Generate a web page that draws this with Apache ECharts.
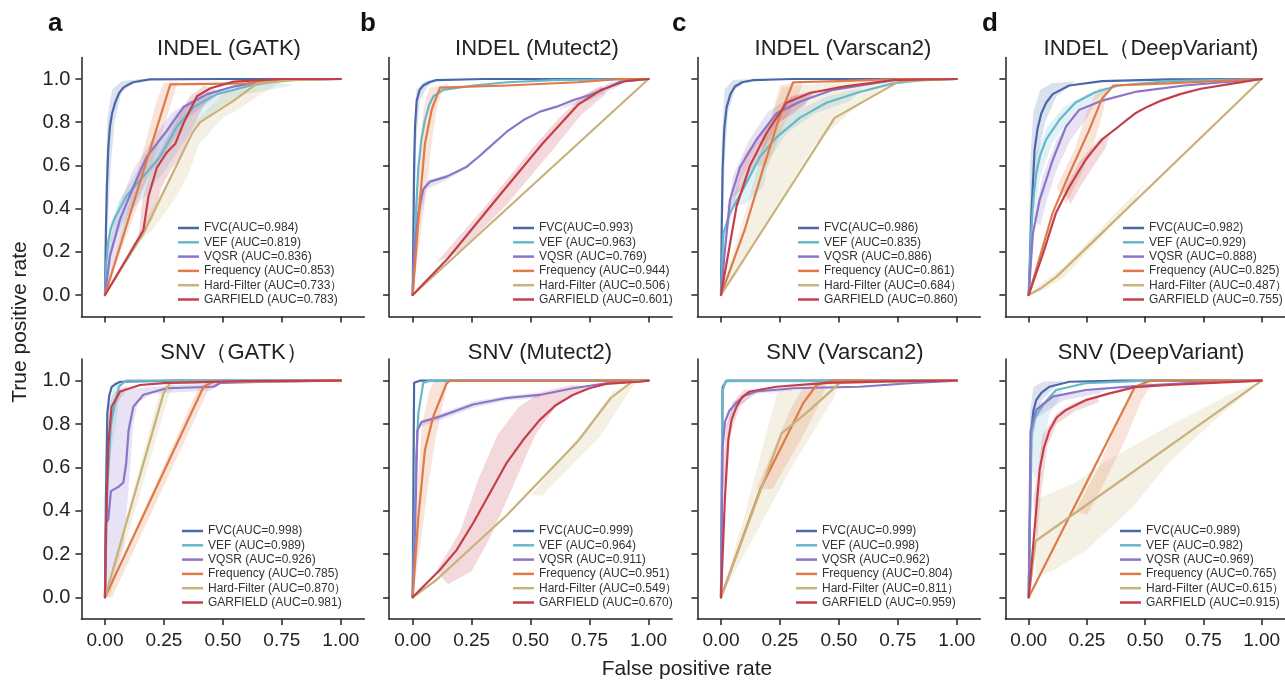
<!DOCTYPE html>
<html lang="en">
<head>
    <meta charset="UTF-8">
    <title>roc_curves</title>
    <script src="https://cdn.jsdelivr.net/npm/echarts@6/dist/echarts.min.js"></script>
    <style>
        html,body{margin:0;padding:0;background:#fff}
        #main{width:1285px;height:682px}
    </style>
</head>
<body>
    <div id="main"></div>
    <script>
        // panel titles, letters, methods
        var panelTitles = ['INDEL (GATK)', 'INDEL (Mutect2)', 'INDEL (Varscan2)', 'INDEL（DeepVariant)',
                           'SNV（GATK）', 'SNV (Mutect2)', 'SNV (Varscan2)', 'SNV (DeepVariant)'];
        var panelLetters = ['a', 'b', 'c', 'd'];
        var methodNames = ['FVC', 'VEF ', 'VQSR ', 'Frequency ', 'Hard-Filter ', 'GARFIELD '];
        var closeParen = [')', ')', ')', ')', '）', ')'];
        var methodColors = ['#4a68a8', '#68b8cb', '#8c74c8', '#e07a48', '#c9b27a', '#c3404a'];
        var xTicks = [0, 0.25, 0.5, 0.75, 1];
        var yTicks = [0, 0.2, 0.4, 0.6, 0.8, 1];

        // AUC per panel (FVC, VEF, VQSR, Frequency, Hard-Filter, GARFIELD)
        var aucIndelGatk = [0.984, 0.819, 0.836, 0.853, 0.733, 0.783];
        var aucIndelMutect2 = [0.993, 0.963, 0.769, 0.944, 0.506, 0.601];
        var aucIndelVarscan2 = [0.986, 0.835, 0.886, 0.861, 0.684, 0.860];
        var aucIndelDeepVariant = [0.982, 0.929, 0.888, 0.825, 0.487, 0.755];
        var aucSnvGatk = [0.998, 0.989, 0.926, 0.785, 0.870, 0.981];
        var aucSnvMutect2 = [0.999, 0.964, 0.911, 0.951, 0.549, 0.670];
        var aucSnvVarscan2 = [0.999, 0.998, 0.962, 0.804, 0.811, 0.959];
        var aucSnvDeepVariant = [0.989, 0.982, 0.969, 0.765, 0.615, 0.915];

        // ROC curves [fpr, tpr]
        var rocIndelGatk = [
            [[0,0],[0.004,0.3],[0.008,0.5],[0.014,0.68],[0.021,0.78],[0.03,0.84],[0.043,0.89],[0.06,0.935],[0.078,0.96],[0.1,0.975],[0.12,0.985],[0.19,0.998],[0.5,1],[1,1]],
            [[0,0],[0.006,0.15],[0.014,0.25],[0.025,0.31],[0.043,0.36],[0.092,0.46],[0.163,0.55],[0.234,0.64],[0.305,0.78],[0.376,0.87],[0.475,0.93],[0.617,0.97],[0.76,0.995],[1,1]],
            [[0,0],[0.021,0.18],[0.064,0.35],[0.12,0.5],[0.177,0.64],[0.262,0.76],[0.333,0.87],[0.433,0.93],[0.546,0.965],[0.688,0.995],[1,1]],
            [[0,0],[0.277,0.975],[0.6,0.98],[0.75,1],[1,1]],
            [[0,0],[0.163,0.285],[0.369,0.748],[0.404,0.8],[0.546,0.9],[0.645,0.98],[0.8,0.995],[1,1]],
            [[0,0],[0.163,0.3],[0.184,0.455],[0.22,0.59],[0.262,0.66],[0.298,0.7],[0.333,0.795],[0.39,0.92],[0.447,0.957],[0.546,0.988],[0.75,1],[1,1]]
        ];
        var rocIndelMutect2 = [
            [[0,0],[0.003,0.3],[0.006,0.59],[0.01,0.78],[0.017,0.9],[0.03,0.95],[0.045,0.97],[0.07,0.985],[0.1,0.995],[0.3,1],[1,1]],
            [[0,0],[0.012,0.35],[0.024,0.59],[0.037,0.72],[0.052,0.81],[0.07,0.88],[0.088,0.92],[0.13,0.95],[0.257,0.97],[0.4,0.985],[0.6,0.995],[1,1]],
            [[0,0],[0.006,0.19],[0.024,0.38],[0.045,0.49],[0.074,0.525],[0.144,0.548],[0.229,0.594],[0.28,0.64],[0.328,0.687],[0.399,0.756],[0.47,0.81],[0.54,0.849],[0.611,0.872],[0.682,0.903],[0.752,0.926],[0.823,0.957],[0.88,0.988],[1,1]],
            [[0,0],[0.031,0.44],[0.052,0.7],[0.081,0.86],[0.116,0.96],[0.4,0.97],[0.7,0.985],[0.88,1],[1,1]],
            [[0,0],[1,1]],
            [[0,0],[0.15,0.17],[0.36,0.45],[0.55,0.7],[0.7,0.88],[0.8,0.95],[0.9,0.99],[1,1]]
        ];
        var rocIndelVarscan2 = [
            [[0,0],[0.003,0.3],[0.007,0.59],[0.014,0.77],[0.024,0.87],[0.04,0.93],[0.059,0.965],[0.09,0.985],[0.137,0.995],[0.3,1],[1,1]],
            [[0,0],[0.01,0.285],[0.038,0.38],[0.094,0.49],[0.165,0.64],[0.235,0.73],[0.334,0.82],[0.447,0.89],[0.588,0.94],[0.73,0.98],[0.85,0.995],[1,1]],
            [[0,0],[0.017,0.21],[0.038,0.44],[0.08,0.59],[0.151,0.72],[0.235,0.84],[0.334,0.895],[0.475,0.95],[0.73,0.995],[1,1]],
            [[0,0],[0.1,0.3],[0.18,0.59],[0.25,0.83],[0.306,0.985],[0.5,0.99],[0.75,1],[1,1]],
            [[0,0],[0.482,0.82],[0.757,0.99],[1,1]],
            [[0,0],[0.066,0.41],[0.123,0.6],[0.193,0.75],[0.278,0.89],[0.377,0.935],[0.518,0.965],[0.73,0.995],[1,1]]
        ];
        var rocIndelDeepVariant = [
            [[0,0],[0.011,0.36],[0.025,0.67],[0.038,0.77],[0.054,0.84],[0.075,0.89],[0.103,0.93],[0.174,0.97],[0.315,0.99],[0.6,0.998],[1,1]],
            [[0,0],[0.011,0.285],[0.02,0.44],[0.032,0.56],[0.05,0.65],[0.075,0.72],[0.131,0.81],[0.2,0.89],[0.287,0.94],[0.386,0.97],[0.6,0.99],[1,1]],
            [[0,0],[0.018,0.285],[0.047,0.44],[0.103,0.625],[0.16,0.78],[0.216,0.856],[0.315,0.9],[0.456,0.94],[0.668,0.97],[1,1]],
            [[0,0],[0.103,0.38],[0.174,0.56],[0.258,0.76],[0.315,0.91],[0.364,0.97],[0.6,0.98],[1,1]],
            [[0,0],[0.05,0.03],[0.12,0.085],[1,1]],
            [[0,0],[0.061,0.19],[0.117,0.38],[0.145,0.44],[0.174,0.5],[0.21,0.565],[0.244,0.625],[0.28,0.675],[0.315,0.72],[0.35,0.75],[0.386,0.78],[0.42,0.81],[0.456,0.84],[0.51,0.872],[0.569,0.9],[0.65,0.93],[0.739,0.955],[0.88,0.98],[1,1]]
        ];
        var rocSnvGatk = [
            [[0,0],[0.004,0.46],[0.01,0.85],[0.018,0.93],[0.028,0.97],[0.045,0.985],[0.064,0.995],[0.3,1],[1,1]],
            [[0,0],[0.01,0.5],[0.025,0.8],[0.04,0.88],[0.06,0.975],[0.09,1],[1,1]],
            [[0,0],[0.004,0.34],[0.014,0.36],[0.025,0.49],[0.057,0.51],[0.078,0.53],[0.09,0.62],[0.1,0.77],[0.12,0.88],[0.163,0.935],[0.262,0.965],[0.46,0.972],[0.49,0.99],[0.7,0.995],[1,1]],
            [[0,0],[0.418,0.972],[0.46,0.995],[1,1]],
            [[0,0],[0.248,0.94],[0.276,0.99],[0.5,0.995],[1,1]],
            [[0,0],[0.004,0.31],[0.014,0.7],[0.028,0.88],[0.064,0.95],[0.149,0.98],[0.262,0.99],[0.6,0.998],[1,1]]
        ];
        var rocSnvMutect2 = [
            [[0,0],[0.006,0.99],[0.03,1],[1,1]],
            [[0,0],[0.014,0.62],[0.024,0.85],[0.045,0.99],[0.073,1],[1,1]],
            [[0,0],[0.01,0.31],[0.02,0.77],[0.038,0.81],[0.115,0.834],[0.256,0.89],[0.397,0.92],[0.538,0.934],[0.68,0.965],[0.82,0.988],[1,1]],
            [[0,0],[0.024,0.37],[0.052,0.68],[0.087,0.834],[0.144,0.988],[0.158,1],[1,1]],
            [[0,0],[0.1,0.08],[0.4,0.38],[0.7,0.72],[0.84,0.92],[0.93,0.995],[1,1]],
            [[0,0],[0.045,0.05],[0.115,0.126],[0.186,0.218],[0.256,0.342],[0.327,0.48],[0.397,0.618],[0.468,0.726],[0.538,0.818],[0.608,0.888],[0.679,0.934],[0.749,0.965],[0.82,0.985],[0.96,0.995],[1,1]]
        ];
        var rocSnvVarscan2 = [
            [[0,0],[0.007,0.97],[0.024,1],[1,1]],
            [[0,0],[0.006,0.95],[0.02,0.998],[1,1]],
            [[0,0],[0.007,0.695],[0.017,0.81],[0.035,0.86],[0.066,0.9],[0.1,0.93],[0.151,0.95],[0.306,0.965],[0.588,0.972],[0.8,0.988],[1,1]],
            [[0,0],[0.165,0.495],[0.348,0.895],[0.405,0.98],[0.475,1],[1,1]],
            [[0,0],[0.257,0.757],[0.377,0.865],[0.504,0.99],[0.7,0.995],[1,1]],
            [[0,0],[0.017,0.465],[0.031,0.726],[0.045,0.82],[0.066,0.88],[0.09,0.925],[0.123,0.95],[0.235,0.972],[0.447,0.99],[0.7,0.997],[1,1]]
        ];
        var rocSnvDeepVariant = [
            [[0,0],[0.011,0.77],[0.02,0.86],[0.032,0.91],[0.055,0.945],[0.089,0.972],[0.174,0.995],[0.4,1],[1,1]],
            [[0,0],[0.011,0.74],[0.025,0.826],[0.061,0.887],[0.117,0.957],[0.244,0.988],[0.513,1],[1,1]],
            [[0,0],[0.008,0.77],[0.032,0.865],[0.103,0.926],[0.244,0.957],[0.456,0.975],[0.7,0.99],[1,1]],
            [[0,0],[0.456,0.972],[0.52,1],[1,1]],
            [[0,0],[0.03,0.26],[1,1]],
            [[0,0],[0.025,0.31],[0.047,0.59],[0.065,0.69],[0.089,0.77],[0.12,0.83],[0.16,0.865],[0.244,0.91],[0.343,0.94],[0.456,0.97],[0.6,0.98],[1,1]]
        ];

        // shaded spread around curves: [method index, outline points]
        var bandIndelGatk = [
            [0, [[0,0],[0.003,0.5],[0.01,0.82],[0.03,0.95],[0.07,0.99],[0.15,1],[0.2,1],[0.12,0.98],[0.07,0.94],[0.04,0.8],[0.025,0.6],[0.01,0.3]]],
            [1, [[0,0],[0.02,0.32],[0.06,0.44],[0.14,0.58],[0.22,0.7],[0.3,0.84],[0.4,0.92],[0.55,0.96],[0.7,0.99],[0.8,0.97],[0.6,0.93],[0.5,0.88],[0.4,0.8],[0.33,0.7],[0.25,0.57],[0.18,0.47],[0.1,0.38],[0.05,0.28],[0.015,0.15]]],
            [2, [[0,0],[0.02,0.25],[0.06,0.42],[0.12,0.58],[0.2,0.72],[0.28,0.84],[0.36,0.9],[0.5,0.95],[0.45,0.9],[0.35,0.82],[0.28,0.7],[0.2,0.58],[0.14,0.45],[0.08,0.3],[0.03,0.12]]],
            [3, [[0,0],[0.12,0.5],[0.22,0.9],[0.25,0.985],[0.31,0.985],[0.29,0.92],[0.2,0.6],[0.1,0.3]]],
            [4, [[0.1,0.2],[0.3,0.6],[0.38,0.8],[0.5,0.93],[0.62,0.99],[0.75,0.99],[0.65,0.92],[0.55,0.85],[0.5,0.82],[0.4,0.7],[0.35,0.55],[0.3,0.45],[0.2,0.3]]],
            [5, [[0.14,0.25],[0.16,0.45],[0.2,0.6],[0.25,0.7],[0.3,0.8],[0.36,0.92],[0.42,0.97],[0.47,0.95],[0.42,0.88],[0.36,0.75],[0.32,0.64],[0.28,0.58],[0.24,0.5],[0.2,0.35]]]
        ];
        var bandIndelMutect2 = [
            [0, [[0,0],[0.004,0.7],[0.015,0.95],[0.05,0.99],[0.1,1],[0.06,0.96],[0.03,0.9],[0.015,0.7]]],
            [3, [[0,0],[0.02,0.5],[0.035,0.75],[0.05,0.88],[0.07,0.96],[0.15,0.975],[0.12,0.93],[0.1,0.85],[0.08,0.7],[0.06,0.5]]],
            [2, [[0,0],[0.02,0.45],[0.06,0.53],[0.15,0.56],[0.25,0.6],[0.14,0.53],[0.06,0.49],[0.02,0.3]]],
            [2, [[0.6,0.85],[0.75,0.94],[0.85,0.99],[0.88,0.97],[0.75,0.9],[0.62,0.86]]],
            [5, [[0.1,0.15],[0.3,0.4],[0.5,0.67],[0.62,0.82],[0.72,0.92],[0.8,0.97],[0.82,0.93],[0.72,0.84],[0.6,0.68],[0.4,0.42],[0.2,0.2]]]
        ];
        var bandIndelVarscan2 = [
            [4, [[0,0],[0.12,0.45],[0.2,0.78],[0.26,0.96],[0.5,0.99],[0.75,0.995],[0.65,0.93],[0.55,0.85],[0.4,0.7],[0.2,0.35],[0.08,0.12]]],
            [0, [[0,0],[0.003,0.7],[0.015,0.95],[0.05,0.995],[0.12,1],[0.06,0.95],[0.03,0.85],[0.015,0.6]]],
            [1, [[0.02,0.4],[0.1,0.55],[0.18,0.72],[0.3,0.84],[0.45,0.92],[0.6,0.96],[0.55,0.9],[0.4,0.84],[0.28,0.75],[0.2,0.62],[0.18,0.5],[0.1,0.42]]],
            [2, [[0.01,0.25],[0.05,0.55],[0.12,0.72],[0.2,0.85],[0.3,0.92],[0.4,0.94],[0.35,0.87],[0.25,0.8],[0.15,0.68],[0.08,0.52],[0.03,0.3]]],
            [3, [[0.15,0.6],[0.22,0.85],[0.25,0.97],[0.35,0.99],[0.33,0.93],[0.27,0.8],[0.2,0.6]]],
            [5, [[0.05,0.45],[0.1,0.65],[0.2,0.8],[0.3,0.92],[0.4,0.95],[0.35,0.88],[0.25,0.8],[0.15,0.62],[0.1,0.5]]]
        ];
        var bandIndelDeepVariant = [
            [0, [[0,0],[0.005,0.6],[0.02,0.85],[0.05,0.95],[0.1,0.98],[0.2,0.99],[0.12,0.92],[0.07,0.8],[0.04,0.65],[0.02,0.4]]],
            [1, [[0.01,0.4],[0.03,0.65],[0.08,0.78],[0.15,0.87],[0.25,0.93],[0.35,0.95],[0.28,0.9],[0.18,0.82],[0.1,0.7],[0.05,0.55],[0.03,0.4]]],
            [2, [[0.02,0.35],[0.06,0.55],[0.12,0.72],[0.2,0.84],[0.28,0.88],[0.25,0.82],[0.18,0.72],[0.12,0.58],[0.08,0.45],[0.05,0.32]]],
            [3, [[0.12,0.5],[0.2,0.68],[0.25,0.85],[0.3,0.96],[0.34,0.96],[0.32,0.85],[0.28,0.7],[0.22,0.55],[0.16,0.42]]],
            [4, [[0,0],[0.06,0.06],[0.15,0.13],[0.5,0.52],[0.45,0.43],[0.15,0.08],[0.06,0.02]]],
            [5, [[0.15,0.48],[0.22,0.62],[0.3,0.72],[0.35,0.75],[0.33,0.68],[0.28,0.6],[0.22,0.5],[0.18,0.42]]]
        ];
        var bandSnvGatk = [
            [2, [[0,0],[0.003,0.5],[0.01,0.88],[0.04,0.95],[0.1,0.96],[0.3,0.98],[0.5,0.99],[0.45,0.955],[0.2,0.94],[0.14,0.9],[0.12,0.8],[0.1,0.5],[0.08,0.25],[0.03,0.06]]],
            [1, [[0.005,0.6],[0.02,0.9],[0.04,0.98],[0.08,1],[0.06,0.93],[0.05,0.82],[0.03,0.7],[0.02,0.6]]],
            [4, [[0,0],[0.23,0.94],[0.26,0.99],[0.3,0.99],[0.27,0.93],[0.02,0]]],
            [3, [[0,0],[0.4,0.975],[0.44,0.995],[0.48,0.995],[0.44,0.96],[0.03,0]]],
            [5, [[0.005,0.5],[0.02,0.85],[0.05,0.95],[0.1,0.98],[0.08,0.94],[0.04,0.88],[0.02,0.7]]]
        ];
        var bandSnvMutect2 = [
            [3, [[0,0],[0.02,0.5],[0.04,0.8],[0.07,0.95],[0.09,1],[0.15,1],[0.13,0.9],[0.1,0.75],[0.07,0.55],[0.04,0.3]]],
            [2, [[0.02,0.8],[0.12,0.85],[0.26,0.905],[0.4,0.93],[0.54,0.945],[0.54,0.92],[0.4,0.91],[0.26,0.875],[0.12,0.82],[0.04,0.79]]],
            [4, [[0.5,0.47],[0.75,0.8],[0.85,0.95],[0.95,1],[0.9,0.92],[0.8,0.75],[0.55,0.47]]],
            [5, [[0.1,0.12],[0.2,0.3],[0.28,0.55],[0.36,0.75],[0.45,0.88],[0.55,0.95],[0.68,0.98],[0.75,0.97],[0.62,0.9],[0.52,0.75],[0.42,0.5],[0.33,0.28],[0.25,0.12],[0.15,0.06]]]
        ];
        var bandSnvVarscan2 = [
            [4, [[0,0],[0.1,0.38],[0.24,0.95],[0.3,0.99],[0.5,0.995],[0.48,0.92],[0.4,0.78],[0.3,0.6],[0.15,0.3]]],
            [3, [[0.15,0.5],[0.3,0.88],[0.35,0.97],[0.45,0.99],[0.42,0.9],[0.35,0.75],[0.22,0.5]]],
            [5, [[0.005,0.5],[0.02,0.78],[0.05,0.9],[0.1,0.96],[0.15,0.95],[0.08,0.88],[0.04,0.75],[0.025,0.55]]],
            [2, [[0.01,0.75],[0.05,0.88],[0.15,0.945],[0.3,0.96],[0.3,0.955],[0.15,0.94],[0.06,0.88]]]
        ];
        var bandSnvDeepVariant = [
            [4, [[0.03,0.1],[0.03,0.45],[0.2,0.53],[0.32,0.62],[0.6,0.79],[0.85,0.93],[1,1],[0.8,0.82],[0.6,0.62],[0.45,0.42],[0.25,0.22],[0.1,0.12]]],
            [0, [[0,0],[0.005,0.85],[0.02,0.97],[0.06,0.995],[0.15,1],[0.1,0.96],[0.05,0.9],[0.02,0.75]]],
            [1, [[0.005,0.6],[0.03,0.85],[0.08,0.93],[0.15,0.97],[0.12,0.9],[0.09,0.85],[0.06,0.7],[0.03,0.55]]],
            [2, [[0.005,0.8],[0.05,0.9],[0.2,0.95],[0.35,0.97],[0.3,0.94],[0.15,0.91],[0.05,0.84]]],
            [3, [[0.2,0.4],[0.3,0.6],[0.37,0.78],[0.44,0.95],[0.5,0.995],[0.53,0.99],[0.48,0.9],[0.42,0.74],[0.32,0.52],[0.25,0.38]]],
            [5, [[0.02,0.45],[0.06,0.75],[0.12,0.85],[0.2,0.9],[0.3,0.93],[0.3,0.9],[0.2,0.86],[0.12,0.8],[0.08,0.7],[0.05,0.45],[0.035,0.25]]]
        ];

        var allAuc = [aucIndelGatk, aucIndelMutect2, aucIndelVarscan2, aucIndelDeepVariant,
                      aucSnvGatk, aucSnvMutect2, aucSnvVarscan2, aucSnvDeepVariant];
        var allRoc = [rocIndelGatk, rocIndelMutect2, rocIndelVarscan2, rocIndelDeepVariant,
                      rocSnvGatk, rocSnvMutect2, rocSnvVarscan2, rocSnvDeepVariant];
        var allBand = [bandIndelGatk, bandIndelMutect2, bandIndelVarscan2, bandIndelDeepVariant,
                       bandSnvGatk, bandSnvMutect2, bandSnvVarscan2, bandSnvDeepVariant];

        // layout (pixels)
        var font = 'Liberation Sans, Arial, Helvetica, sans-serif';
        var gridLeft = [81.4, 389.1, 697.4, 1005.4];
        var gridTop = [57.4, 359];
        var gridHeight = [259.2, 260];
        var titleX = [[229, 537, 843, 1151], [234, 540, 845, 1151]];
        var titleY = [49, 353];
        var legendLeft = [[178, 513, 798, 1123], [182, 513, 796, 1120]];
        var legendTop = [221, 524];
        var letterX = [48, 360, 672, 982];

        var mychart = echarts.init(document.getElementById('main'));
        var grids = [], xAxes = [], yAxes = [], series = [], legends = [], texts = [];

        function legendName(g, m) {
            return methodNames[m] + '(AUC=' + allAuc[g][m].toFixed(3) + closeParen[m];
        }

        for (var g = 0; g < 8; g++) {
            var row = g < 4 ? 0 : 1, col = g % 4;
            grids.push({left: gridLeft[col], top: gridTop[row], width: 283, height: gridHeight[row]});
            xAxes.push({
                gridIndex: g, type: 'value', min: -0.1, max: 1.1,
                axisLine: {show: true, onZero: false, lineStyle: {color: '#222', width: 1.5}},
                axisTick: {show: true, customValues: xTicks, length: 6, lineStyle: {color: '#222', width: 1.5}},
                axisLabel: {show: row === 1, customValues: xTicks, fontSize: 19, margin: 12, color: '#222', fontFamily: font,
                    formatter: function (v) { return v.toFixed(2); }},
                splitLine: {show: false}
            });
            yAxes.push({
                gridIndex: g, type: 'value', min: -0.1, max: 1.1,
                axisLine: {show: true, onZero: false, lineStyle: {color: '#222', width: 1.5}},
                axisTick: {show: true, customValues: yTicks, length: 6, lineStyle: {color: '#222', width: 1.5}},
                axisLabel: {show: col === 0, customValues: yTicks, fontSize: 20, margin: 11, color: '#222', fontFamily: font,
                    formatter: function (v) { return v.toFixed(1); }},
                splitLine: {show: false}
            });

            // shaded bands
            (function (bands, gi) {
                series.push({
                    type: 'custom', xAxisIndex: gi, yAxisIndex: gi, z: 1, silent: true,
                    data: bands.map(function () { return [0.5, 0.5]; }),
                    renderItem: function (params, api) {
                        var b = bands[params.dataIndex];
                        return {
                            type: 'polygon',
                            shape: {points: b[1].map(function (p) { return api.coord(p); })},
                            style: {fill: methodColors[b[0]], opacity: 0.2}
                        };
                    }
                });
            })(allBand[g], g);

            var names = [];
            for (var m = 0; m < 6; m++) {
                var nm = legendName(g, m);
                names.push(nm);
                series.push({
                    name: nm, type: 'line', xAxisIndex: g, yAxisIndex: g, z: 2,
                    data: allRoc[g][m], showSymbol: false, smooth: false,
                    color: methodColors[m],
                    lineStyle: {width: 2.2, color: methodColors[m], join: 'round', cap: 'round'}
                });
            }
            legends.push({
                data: names, orient: 'vertical', left: legendLeft[row][col], top: legendTop[row],
                icon: 'rect', itemWidth: 21, itemHeight: 2.5, itemGap: 0.3, padding: 0, selectedMode: false,
                textStyle: {fontSize: 12, lineHeight: 14, color: '#333', fontFamily: font}
            });
            texts.push({type: 'text', x: titleX[row][col], y: titleY[row], silent: true,
                style: {text: panelTitles[g], font: '22px ' + font, fill: '#222', align: 'center', verticalAlign: 'middle'}});
        }
        for (var c = 0; c < 4; c++) {
            texts.push({type: 'text', x: letterX[c], y: 24, silent: true,
                style: {text: panelLetters[c], font: 'bold 26px ' + font, fill: '#111', align: 'left', verticalAlign: 'middle'}});
        }
        texts.push({type: 'text', x: 687, y: 669, silent: true,
            style: {text: 'False positive rate', font: '21px ' + font, fill: '#222', align: 'center', verticalAlign: 'middle'}});
        texts.push({type: 'text', x: 20, y: 322, rotation: Math.PI / 2, silent: true,
            style: {text: 'True positive rate', font: '21px ' + font, fill: '#222', align: 'center', verticalAlign: 'middle'}});

        var option = {
            animation: false,
            backgroundColor: '#fff',
            grid: grids,
            xAxis: xAxes,
            yAxis: yAxes,
            legend: legends,
            series: series,
            graphic: texts
        };
        mychart.setOption(option);
    </script>
</body>
</html>
